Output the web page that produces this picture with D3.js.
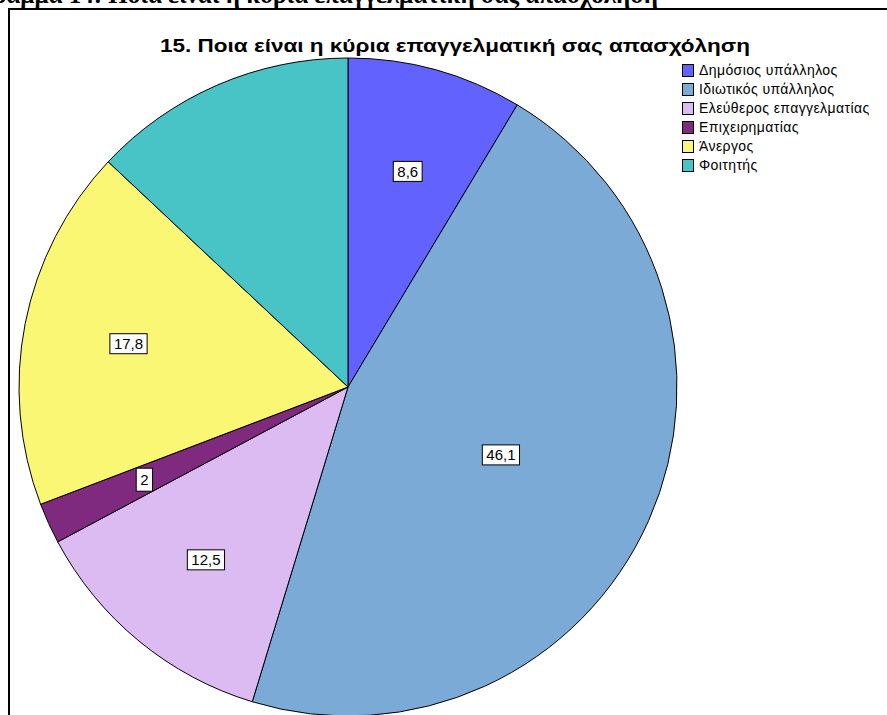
<!DOCTYPE html>
<html>
<head>
<meta charset="utf-8">
<script src="https://cdn.jsdelivr.net/npm/d3@7"></script>
<style>
  body { margin: 0; background: #fff; }
  svg { display: block; }
</style>
</head>
<body>
<svg id="chart" width="887" height="715"></svg>
<script>
(function(){
    'use strict';

    // Categories, values (%) and slice colours
    var categories = ['Δημόσιος υπάλληλος', 'Ιδιωτικός υπάλληλος', 'Ελεύθερος επαγγελματίας',
                      'Επιχειρηματίας', 'Άνεργος', 'Φοιτητής'];
    var values = [8.6, 46.1, 12.5, 2, 17.8, 13.0];
    var labels = ['8,6', '46,1', '12,5', '2', '17,8', ''];
    var colors = ['#6262FF', '#7BAAD6', '#DCBBF2', '#7F297F', '#FAF774', '#48C3C6'];

    var caption = 'Διάγραμμα 14: Ποια είναι η κύρια επαγγελματική σας απασχόληση';
    var title = '15. Ποια είναι η κύρια επαγγελματική σας απασχόληση';

    var svg = d3.select('#chart');
    var cx = 348, cy = 387, radius = 329;

    // Document caption, clipped by the top of the page
    svg.append('text')
        .attr('x', 658).attr('y', 3)
        .attr('text-anchor', 'end')
        .style('font-family', '"Liberation Serif", "Times New Roman", serif')
        .style('font-weight', 'bold')
        .style('font-size', '25px')
        .text(caption);

    // Frame (goes off the right and bottom edge)
    svg.append('path')
        .attr('d', 'M9,716 L9,9 L888,9')
        .attr('fill', 'none')
        .attr('stroke', '#000')
        .attr('stroke-width', 2);

    svg.append('text')
        .attr('x', 455).attr('y', 52)
        .attr('text-anchor', 'middle')
        .attr('textLength', 590)
        .attr('lengthAdjust', 'spacingAndGlyphs')
        .style('font-family', '"Liberation Sans", Arial, sans-serif')
        .style('font-weight', 'bold')
        .style('font-size', '19px')
        .text(title);

    var data = categories.map(function(c, i) {
        return { name: c, value: values[i], label: labels[i], color: colors[i] };
    });

    var pie = d3.pie()
        .sort(null)
        .value(function(d) { return d.value; });

    var arc = d3.arc().innerRadius(0).outerRadius(radius);

    var g = svg.append('g').attr('transform', 'translate(' + cx + ',' + cy + ')');
    var arcs = pie(data);

    g.selectAll('path')
        .data(arcs)
        .enter()
        .append('path')
        .attr('d', arc)
        .attr('fill', function(d) { return d.data.color; })
        .attr('stroke', '#000')
        .attr('stroke-width', 1);

    // Labels at a fixed radius, pulled in toward the centroid for wide slices
    var lab = g.selectAll('g.lab')
        .data(arcs.filter(function(d) { return d.data.label; }))
        .enter()
        .append('g')
        .attr('class', 'lab')
        .attr('transform', function(d) {
            var theta = d.endAngle - d.startAngle;
            var centroid = 4 * radius * Math.sin(theta / 2) / (3 * theta);
            var r = Math.min(radius * 0.68, centroid + 17);
            var a = (d.startAngle + d.endAngle) / 2;
            return 'translate(' + (Math.sin(a) * r) + ',' + (-Math.cos(a) * r) + ')';
        });

    lab.append('text')
        .attr('text-anchor', 'middle')
        .attr('dy', '0.36em')
        .style('font-family', '"Liberation Sans", Arial, sans-serif')
        .style('font-size', '15px')
        .text(function(d) { return d.data.label; });

    lab.each(function() {
        var t = d3.select(this).select('text');
        var b = t.node().getBBox();
        var w = Math.max(b.width + 8, 16);
        var h = d3.select(this).datum().data.label.length === 1 ? 23 : 20;
        d3.select(this).insert('rect', 'text')
            .attr('x', -w / 2).attr('y', -h / 2)
            .attr('width', w).attr('height', h)
            .attr('fill', '#fff')
            .attr('stroke', '#000')
            .attr('stroke-width', 1);
    });

    // Legend
    var legend = svg.append('g').attr('transform', 'translate(682, 64)');
    var rows = legend.selectAll('g')
        .data(data)
        .enter()
        .append('g')
        .attr('transform', function(d, i) { return 'translate(0,' + (i * 19) + ')'; });

    rows.append('rect')
        .attr('x', 0.5).attr('y', 0.5)
        .attr('width', 11).attr('height', 12)
        .attr('fill', function(d) { return d.color; })
        .attr('stroke', '#000')
        .attr('stroke-width', 1);

    rows.append('text')
        .attr('x', 17).attr('y', 11)
        .style('font-family', '"Liberation Sans", Arial, sans-serif')
        .style('font-size', '14px')
        .style('letter-spacing', '0.4px')
        .text(function(d) { return d.name; });
})();
</script>
</body>
</html>
